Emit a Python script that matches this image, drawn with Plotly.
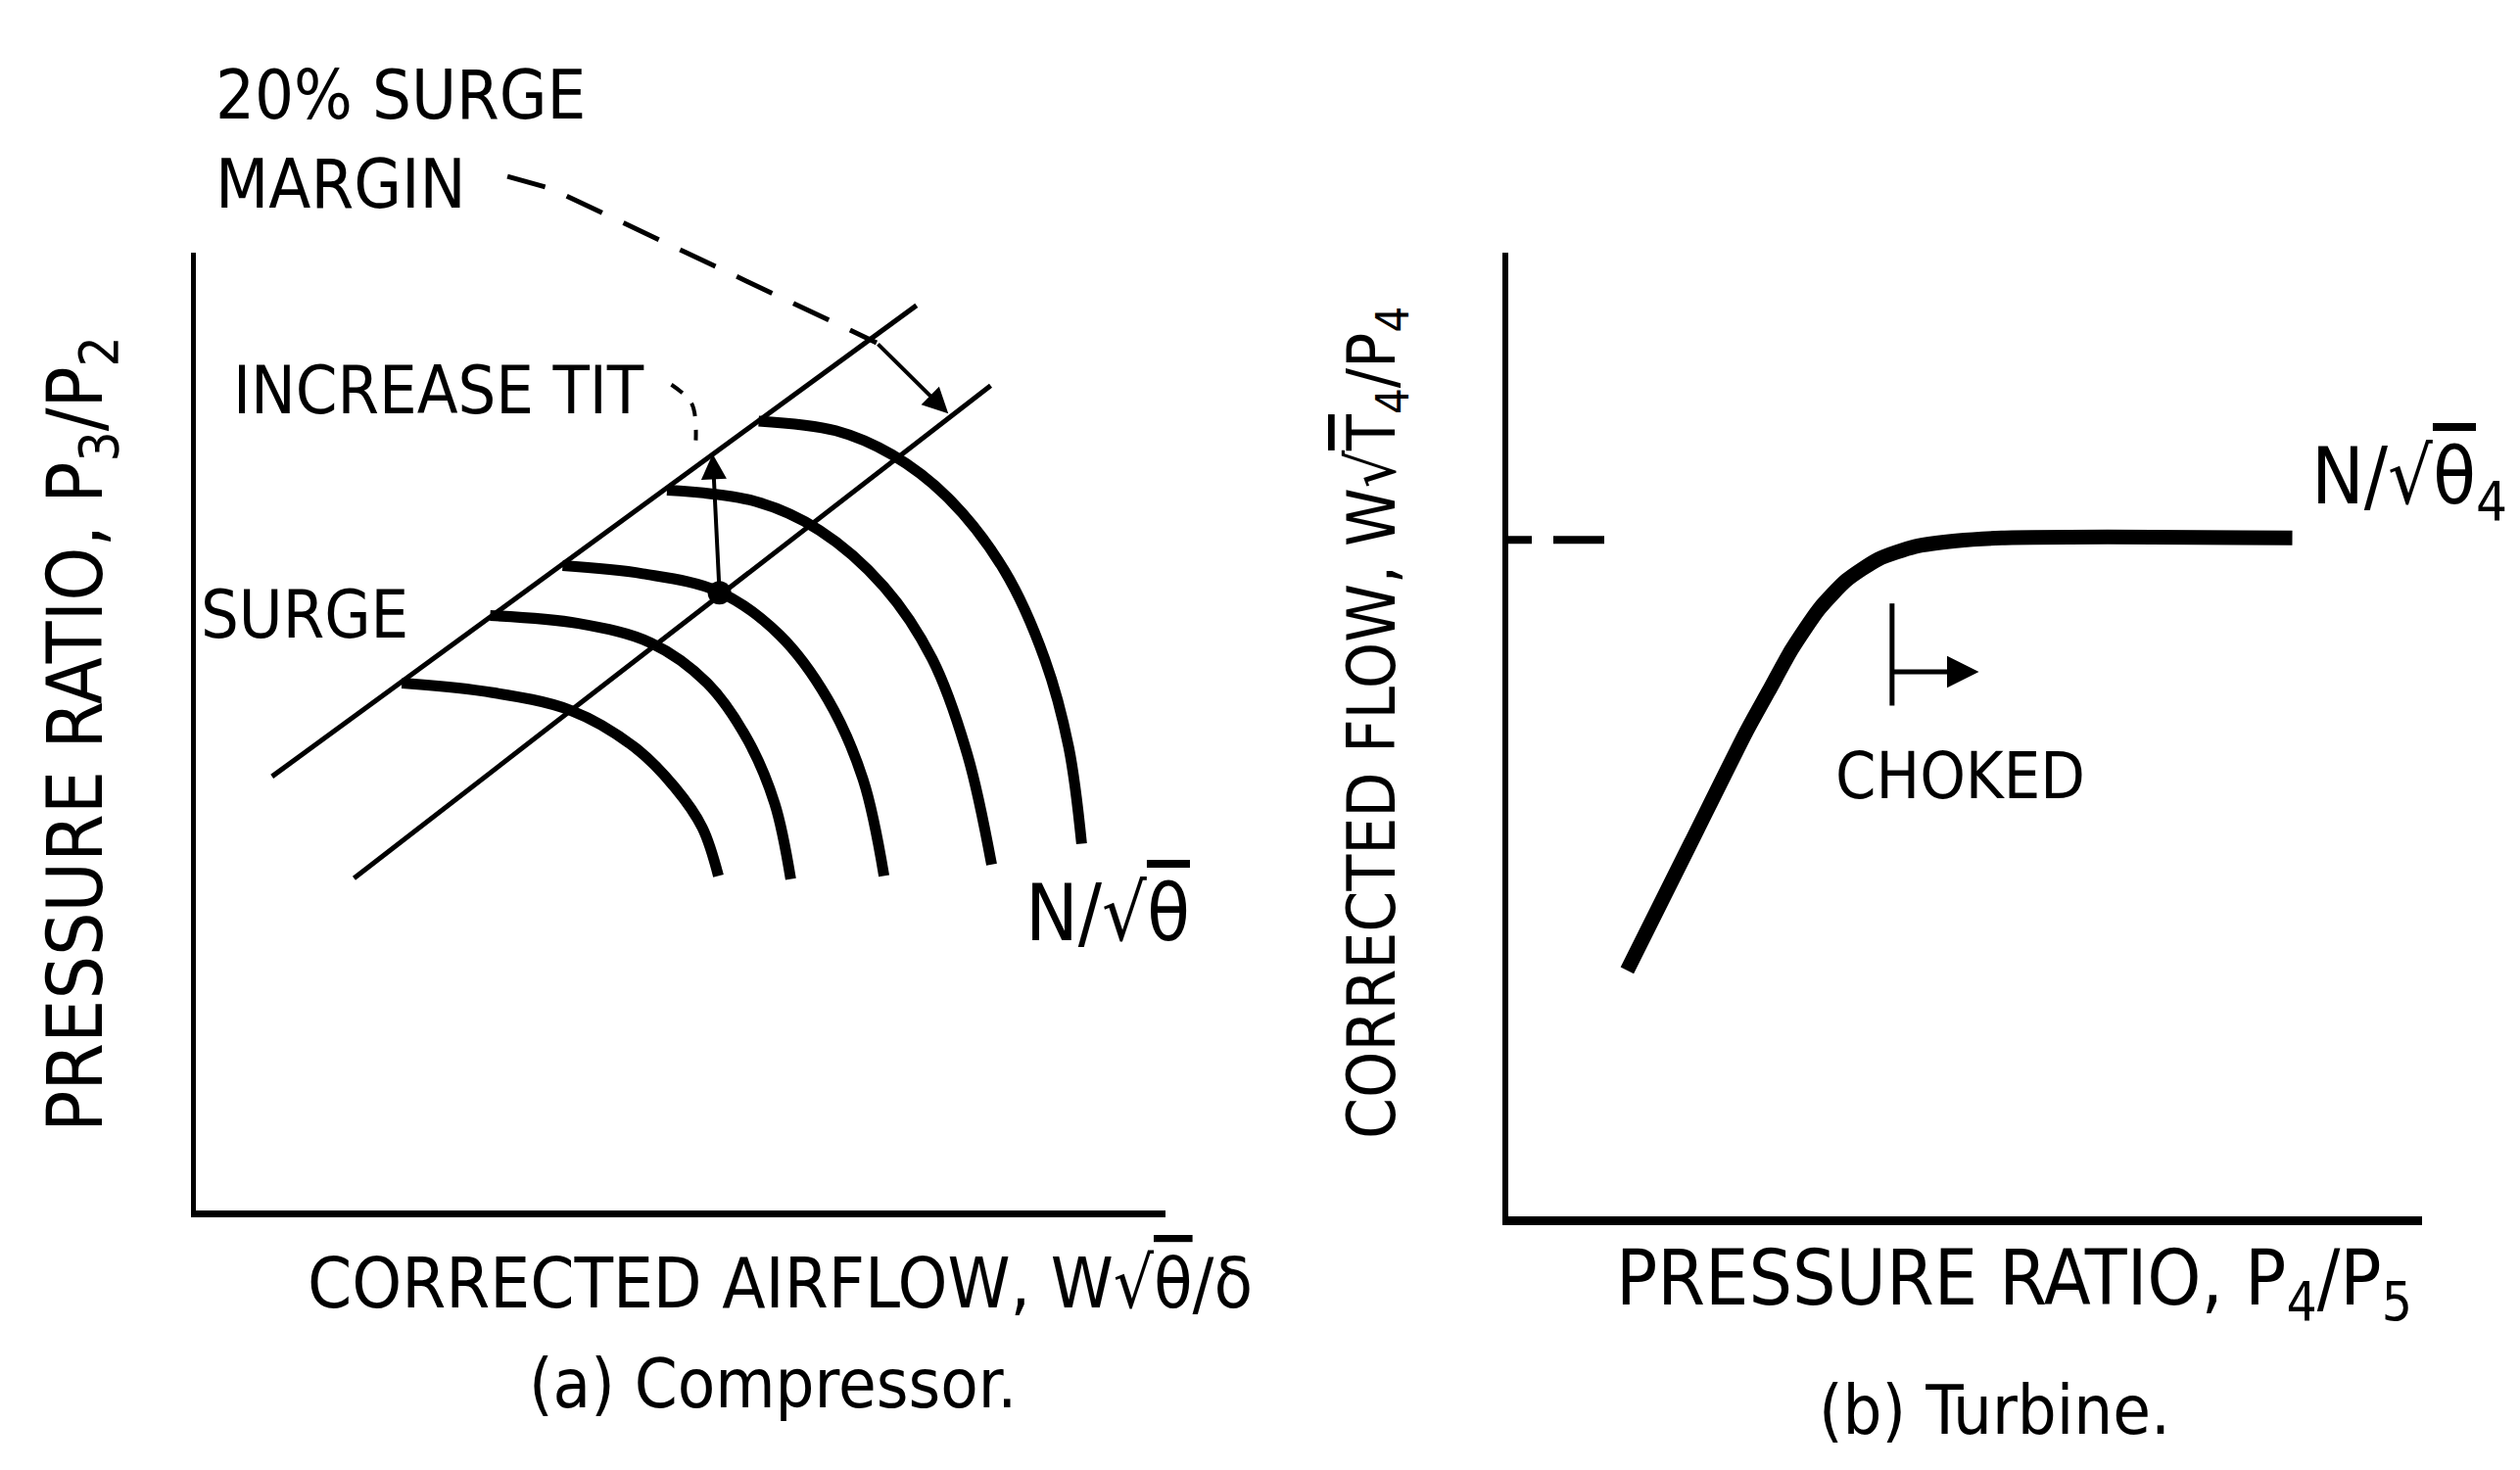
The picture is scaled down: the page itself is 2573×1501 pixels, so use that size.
import plotly.graph_objects as go

W, H = 2573, 1501
FONT = "DejaVu Sans Condensed, Liberation Sans Narrow, DejaVu Sans, sans-serif"
INK = "black"

# ---------------- (a) Compressor map, arbitrary corrected units ----------------
surge_x = [0.785, 7.432]
surge_y = [4.531, 9.449]
margin_x = [1.631, 8.197]
margin_y = [3.469, 8.612]

speed1_x = [2.124, 2.953, 3.865, 4.527, 4.941, 5.223, 5.389]
speed1_y = [5.507, 5.423, 5.222, 4.835, 4.416, 3.997, 3.494]
speed2_x = [3.035, 3.947, 4.693, 5.273, 5.688, 5.970, 6.135]
speed2_y = [6.212, 6.128, 5.926, 5.507, 4.919, 4.248, 3.460]
speed3_x = [3.782, 4.610, 5.389, 6.019, 6.516, 6.881, 7.097]
speed3_y = [6.732, 6.648, 6.463, 6.010, 5.339, 4.500, 3.494]
speed4_x = [4.859, 5.771, 6.433, 7.097, 7.594, 7.959, 8.207]
speed4_y = [7.520, 7.403, 7.101, 6.513, 5.759, 4.752, 3.611]
speed5_x = [5.804, 6.599, 7.180, 7.760, 8.339, 8.754, 9.002, 9.135]
speed5_y = [8.242, 8.141, 7.890, 7.437, 6.681, 5.759, 4.835, 3.829]

op_x, op_y = 5.40, 6.45            # operating point on the margin line
tit_x, tit_y = 5.33, 7.90          # where raised TIT pushes it (surge line)

margin_leader_x = [3.213, 3.660, 7.020]
margin_leader_y = [10.796, 10.670, 9.060]
margin_arrow_x = [7.020, 7.760]
margin_arrow_y = [9.060, 8.320]
tit_leader_x = [4.904, 5.116, 5.156]
tit_leader_y = [8.622, 8.418, 8.041]

# ---------------- (b) Turbine flow characteristic ----------------
turb_x = [1.301, 2.000, 2.600, 2.850, 3.100, 3.400, 3.700, 4.050, 4.450,
          4.900, 5.400, 6.560, 8.580]
turb_y = [2.553, 3.880, 5.020, 5.450, 5.880, 6.300, 6.600, 6.820, 6.950,
          7.010, 7.040, 7.050, 7.040]
choke_x = 4.20
choke_y = [5.30, 6.36]
choke_arrow_x = [4.20, 5.15]
choke_arrow_y = 5.65
flow_ref_x = [0.0, 1.06]
flow_ref_y = 7.02

# ---------------- layout geometry (pixels) ----------------
def px_x(p):
    return p / W


def px_y(p):
    return 1 - p / H


comp_dom_x = [px_x(200), px_x(1190)]
comp_dom_y = [px_y(1236), px_y(258)]
turb_dom_x = [px_x(1540), px_x(2473)]
turb_dom_y = [px_y(1242), px_y(258)]
RANGE = [0, 10]

# helper layer over panel (a) sharing its scale, so leaders may leave the axes box
over_dom_x = [0.0, 0.49]
over_dom_y = [0.0, 1.0]


def matched_range(dom, rng, odom, size):
    k = (dom[1] - dom[0]) * size / (rng[1] - rng[0])
    lo = rng[0] + (odom[0] - dom[0]) * size / k
    hi = rng[0] + (odom[1] - dom[0]) * size / k
    return [lo, hi]


over_rx = matched_range(comp_dom_x, RANGE, over_dom_x, W)
over_ry = matched_range(comp_dom_y, RANGE, over_dom_y, H)

fig = go.Figure()


def line(x, y, width, xa="x", ya="y", dash="solid", shape="linear", smoothing=1.0):
    fig.add_trace(go.Scatter(
        x=x, y=y, mode="lines", xaxis=xa, yaxis=ya, hoverinfo="skip",
        line=dict(color=INK, width=width, dash=dash, shape=shape, smoothing=smoothing),
        showlegend=False))


# compressor: surge line, surge-margin line, constant-speed lines
line(surge_x, surge_y, 5)
line(margin_x, margin_y, 5)
for sx, sy in [(speed1_x, speed1_y), (speed2_x, speed2_y), (speed3_x, speed3_y),
               (speed4_x, speed4_y), (speed5_x, speed5_y)]:
    line(sx, sy, 11, shape="spline")
fig.add_trace(go.Scatter(x=[op_x], y=[op_y], mode="markers", hoverinfo="skip",
                         marker=dict(color=INK, size=24), showlegend=False))

# leaders on the helper layer
line(margin_leader_x, margin_leader_y, 5, "x3", "y3", dash="40px,24px")
line(tit_leader_x, tit_leader_y, 4, "x3", "y3", dash="14px,14px", shape="spline")

# turbine: corrected flow vs pressure ratio
line(turb_x, turb_y, 15, "x2", "y2", shape="spline", smoothing=0.6)
line(flow_ref_x, [flow_ref_y, flow_ref_y], 8, "x2", "y2", dash="24px,22px,52px,200px")
line([choke_x, choke_x], choke_y, 5, "x2", "y2")

ax_common = dict(showgrid=False, zeroline=False, showticklabels=False, ticks="",
                 showline=True, linecolor=INK, range=RANGE, fixedrange=True)

fig.update_layout(
    width=W, height=H,
    margin=dict(l=0, r=0, t=0, b=0),
    paper_bgcolor="white", plot_bgcolor="rgba(0,0,0,0)",
    font=dict(family=FONT, color=INK, size=70),
    xaxis=dict(domain=comp_dom_x, anchor="y", linewidth=7, **ax_common),
    yaxis=dict(domain=comp_dom_y, anchor="x", linewidth=5, **ax_common),
    xaxis2=dict(domain=turb_dom_x, anchor="y2", linewidth=9, **ax_common),
    yaxis2=dict(domain=turb_dom_y, anchor="x2", linewidth=6, **ax_common),
    xaxis3=dict(domain=over_dom_x, anchor="y3", range=over_rx, visible=False),
    yaxis3=dict(domain=over_dom_y, anchor="x3", range=over_ry, visible=False),
)

OVER = "<span style='text-decoration:overline'>"


def label(text, x, y, size, xanchor="left", angle=0):
    fig.add_annotation(text=text, x=px_x(x), y=px_y(y), xref="paper", yref="paper",
                       xanchor=xanchor, yanchor="middle", showarrow=False,
                       textangle=angle, font=dict(size=size, family=FONT, color=INK))


label("20% SURGE", 218, 97, 70)
label("MARGIN", 218, 188, 70)
label("INCREASE TIT", 236, 398, 68)
label("SURGE", 203, 627, 68)
label("N/√" + OVER + "θ</span>", 1045, 932, 80)
label("CORRECTED AIRFLOW, W√" + OVER + "θ</span>/δ", 312, 1310, 72)
label("(a) Compressor.", 538, 1413, 70)
label("PRESSURE RATIO, P<sub>3</sub>/P<sub>2</sub>", 82, 750, 78, xanchor="center", angle=-90)

label("CORRECTED FLOW, W√" + OVER + "T</span><sub>4</sub>/P<sub>4</sub>", 1405, 738, 67,
      xanchor="center", angle=-90)
label("N/√" + OVER + "θ</span><sub>4</sub>", 2358, 492, 80)
label("CHOKED", 2001, 792, 66, xanchor="center")
label("PRESSURE RATIO, P<sub>4</sub>/P<sub>5</sub>", 1648, 1310, 78)
label("(b) Turbine.", 1855, 1440, 70)

# arrows
fig.add_annotation(x=tit_x, y=tit_y, ax=op_x, ay=op_y, xref="x", yref="y",
                   axref="x", ayref="y", showarrow=True, arrowhead=2,
                   arrowsize=1.3, arrowwidth=4, arrowcolor=INK, text="")
fig.add_annotation(x=margin_arrow_x[1], y=margin_arrow_y[1], ax=margin_arrow_x[0],
                   ay=margin_arrow_y[0], xref="x3", yref="y3", axref="x3", ayref="y3",
                   showarrow=True, arrowhead=2, arrowsize=1.3, arrowwidth=4,
                   arrowcolor=INK, text="")
fig.add_annotation(x=choke_arrow_x[1], y=choke_arrow_y, ax=choke_arrow_x[0],
                   ay=choke_arrow_y, xref="x2", yref="y2", axref="x2", ayref="y2",
                   showarrow=True, arrowhead=2, arrowsize=1.3, arrowwidth=5,
                   arrowcolor=INK, text="")

fig.write_html("out.html")
